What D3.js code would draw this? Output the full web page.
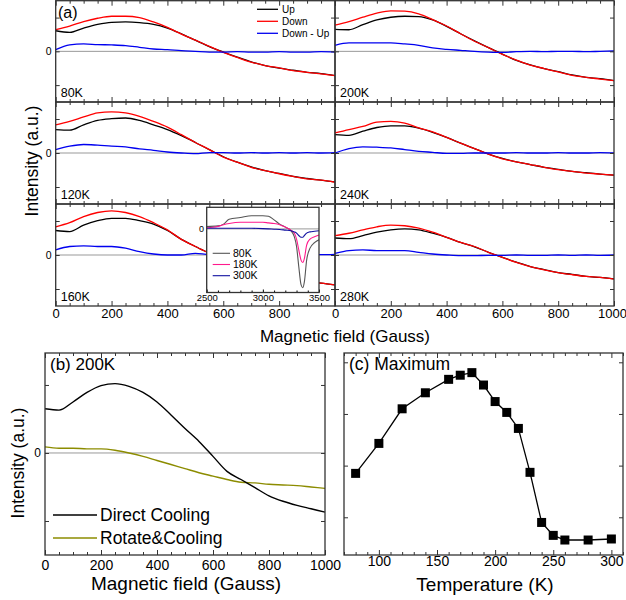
<!DOCTYPE html>
<html>
<head>
<meta charset="utf-8">
<script src="https://cdn.jsdelivr.net/npm/d3@7"></script>
<style>
  body { margin: 0; background: #fff; }
  svg { display: block; font-family: "Liberation Sans", Arial, sans-serif; }
</style>
</head>
<body>
<div id="chart"></div>
<script>
// ---- data ----
// (a) field sweep, Gauss
const fieldA = [0, 50, 100, 150, 200, 250, 300, 350, 400, 450, 500, 550, 600, 650, 700, 750, 800, 850, 900, 950, 1000];

const up80    = [0.61, 0.56, 0.69, 0.80, 0.86, 0.87, 0.85, 0.80, 0.69, 0.52, 0.33, 0.14, -0.02, -0.17, -0.31, -0.42, -0.50, -0.56, -0.62, -0.66, -0.72];
const down80  = [0.64, 0.75, 0.88, 0.98, 1.04, 1.04, 1.00, 0.87, 0.71, 0.51, 0.33, 0.15, -0.03, -0.18, -0.32, -0.42, -0.49, -0.57, -0.62, -0.67, -0.72];
const diff80  = [0.05, 0.19, 0.22, 0.20, 0.19, 0.17, 0.12, 0.07, 0.05, 0.02, 0.00, -0.02, -0.02, -0.01, -0.02, -0.02, -0.01, -0.02, -0.02, -0.01, -0.02];

const up120   = [0.69, 0.67, 0.83, 0.96, 1.01, 1.03, 0.96, 0.83, 0.69, 0.51, 0.31, 0.10, -0.11, -0.27, -0.41, -0.52, -0.60, -0.69, -0.75, -0.80, -0.85];
const down120 = [0.83, 0.93, 1.06, 1.18, 1.21, 1.18, 1.08, 0.93, 0.76, 0.54, 0.31, 0.10, -0.12, -0.27, -0.42, -0.52, -0.61, -0.69, -0.76, -0.80, -0.86];
const diff120 = [0.10, 0.20, 0.25, 0.23, 0.20, 0.18, 0.12, 0.08, 0.03, 0.00, -0.02, 0.01, 0.01, 0.00, 0.01, 0.00, 0.01, 0.00, 0.01, 0.00, 0.01];

const up160   = [0.72, 0.69, 0.88, 1.01, 1.08, 1.08, 1.01, 0.91, 0.72, 0.46, 0.25, 0.05, -0.15, -0.32, -0.46, -0.57, -0.66, -0.73, -0.79, -0.83, -0.88];
const down160 = [0.83, 0.95, 1.13, 1.25, 1.30, 1.25, 1.13, 0.95, 0.74, 0.46, 0.25, 0.05, -0.15, -0.32, -0.46, -0.57, -0.66, -0.73, -0.79, -0.83, -0.88];
const diff160 = [0.15, 0.25, 0.27, 0.25, 0.25, 0.20, 0.10, 0.03, 0.00, 0.00, 0.05, 0.02, 0.02, 0.01, 0.02, 0.01, 0.02, 0.01, 0.02, 0.01, 0.02];

const up200   = [0.65, 0.64, 0.79, 0.93, 1.01, 1.04, 1.03, 0.93, 0.74, 0.52, 0.31, 0.11, -0.08, -0.27, -0.40, -0.51, -0.60, -0.70, -0.77, -0.81, -0.87];
const down200 = [0.78, 0.88, 1.01, 1.13, 1.20, 1.19, 1.11, 0.94, 0.75, 0.52, 0.30, 0.11, -0.09, -0.26, -0.41, -0.51, -0.61, -0.71, -0.77, -0.82, -0.87];
const diff200 = [0.18, 0.25, 0.25, 0.25, 0.25, 0.22, 0.18, 0.10, 0.06, 0.03, 0.00, -0.02, -0.03, -0.01, 0.00, -0.01, 0.00, 0.00, -0.01, 0.00, 0.01];

const up240   = [0.54, 0.52, 0.64, 0.75, 0.80, 0.80, 0.73, 0.61, 0.46, 0.29, 0.13, -0.03, -0.16, -0.26, -0.34, -0.42, -0.48, -0.54, -0.58, -0.62, -0.65];
const down240 = [0.59, 0.69, 0.78, 0.91, 0.93, 0.88, 0.74, 0.62, 0.46, 0.29, 0.13, -0.03, -0.17, -0.26, -0.34, -0.42, -0.49, -0.54, -0.59, -0.62, -0.65];
const diff240 = [0.00, 0.13, 0.18, 0.17, 0.15, 0.10, 0.05, 0.02, -0.01, -0.01, 0.00, 0.00, 0.00, 0.01, 0.00, 0.00, 0.01, 0.00, 0.00, 0.01, 0.00];

const up280   = [0.50, 0.48, 0.57, 0.67, 0.74, 0.77, 0.74, 0.64, 0.52, 0.37, 0.24, 0.08, -0.07, -0.21, -0.34, -0.43, -0.52, -0.57, -0.63, -0.66, -0.70];
const down280 = [0.57, 0.64, 0.74, 0.83, 0.88, 0.86, 0.79, 0.67, 0.52, 0.37, 0.25, 0.08, -0.07, -0.22, -0.34, -0.44, -0.52, -0.58, -0.63, -0.66, -0.71];
const diff280 = [0.05, 0.13, 0.15, 0.13, 0.13, 0.13, 0.08, 0.03, 0.00, -0.02, -0.02, -0.01, -0.01, 0.00, -0.01, -0.01, 0.00, -0.01, 0.00, -0.01, 0.00];

// inset of (a): wide sweep
const insetField = [2500, 2600, 2650, 2700, 2800, 2900, 3000, 3050, 3100, 3150, 3200, 3250, 3280, 3300, 3320, 3340, 3355, 3370, 3390, 3420, 3460, 3500];
const inset80  = [0.04, 0.05, 0.08, 0.16, 0.19, 0.22, 0.22, 0.21, 0.15, 0.08, 0.03, -0.03, -0.13, -0.29, -0.63, -0.93, -0.98, -0.88, -0.52, -0.32, -0.23, -0.18];
const inset180 = [0.02, 0.04, 0.07, 0.09, 0.11, 0.11, 0.11, 0.10, 0.09, 0.07, 0.03, -0.02, -0.07, -0.17, -0.35, -0.52, -0.56, -0.49, -0.27, -0.17, -0.13, -0.10];
const inset300 = [0.01, 0.01, 0.01, 0.01, 0.01, 0.01, 0.005, 0.0, -0.005, -0.01, -0.02, -0.03, -0.05, -0.07, -0.11, -0.14, -0.14, -0.11, -0.07, -0.05, -0.04, -0.03];

// (b) 200K
const fieldB = [0, 50, 100, 150, 200, 250, 300, 350, 400, 450, 500, 550, 600, 650, 700, 750, 800, 850, 900, 950, 1000];
const directCooling = [0.65, 0.63, 0.75, 0.89, 0.99, 1.02, 0.98, 0.89, 0.75, 0.56, 0.36, 0.17, -0.05, -0.27, -0.39, -0.51, -0.63, -0.71, -0.77, -0.82, -0.87];
const rotateCooling = [0.09, 0.07, 0.07, 0.06, 0.06, 0.04, 0.00, -0.05, -0.11, -0.17, -0.23, -0.29, -0.34, -0.39, -0.43, -0.44, -0.46, -0.47, -0.48, -0.50, -0.52];

// (c) maximum vs temperature
const temps   = [80, 100, 120, 140, 160, 170, 180, 190, 200, 210, 220, 230, 240, 250, 260, 280, 300];
const maxima  = [1.85, 2.43, 3.10, 3.41, 3.67, 3.75, 3.80, 3.56, 3.24, 3.03, 2.72, 1.87, 0.90, 0.65, 0.56, 0.56, 0.58];

const fieldTicks = [0, 50, 100, 150, 200, 250, 300, 350, 400, 450, 500, 550, 600, 650, 700, 750, 800, 850, 900, 950, 1000];
const fieldLabels = [0, 200, 400, 600, 800, 1000];
const tempTicks = [70, 80, 90, 100, 110, 120, 130, 140, 150, 160, 170, 180, 190, 200, 210, 220, 230, 240, 250, 260, 270, 280, 290, 300, 310];
const tempLabels = [100, 150, 200, 250, 300];

const FRAME = "#333";

const svg = d3.select("#chart").append("svg")
    .attr("width", 626)
    .attr("height", 600);

// inward ticks on all four sides of a box
function boxTicks(g, x, y, xt, xMajor, yt) {
    const [xl, xr] = x.range();
    const [yb, yt0] = y.range();
    const put = (axis, tx, ty) => g.append("g")
        .attr("transform", `translate(${tx},${ty})`)
        .call(axis)
        .call(a => a.select(".domain").remove())
        .call(a => a.selectAll("line").attr("stroke", FRAME));
    const major = xt.filter(v => xMajor.includes(v));
    const minor = xt.filter(v => !xMajor.includes(v));
    put(d3.axisBottom(x).tickValues(minor).tickSize(-3).tickFormat(""), 0, yb);
    put(d3.axisTop(x).tickValues(minor).tickSize(-3).tickFormat(""), 0, yt0);
    put(d3.axisBottom(x).tickValues(major).tickSize(-5).tickFormat(""), 0, yb);
    put(d3.axisTop(x).tickValues(major).tickSize(-5).tickFormat(""), 0, yt0);
    put(d3.axisLeft(y).tickValues(yt).tickSize(-4).tickFormat(""), xl, 0);
    put(d3.axisRight(y).tickValues(yt).tickSize(-4).tickFormat(""), xr, 0);
}

function frame(g, x, y) {
    const [xl, xr] = x.range();
    const [yb, yt] = y.range();
    g.append("rect")
        .attr("x", xl).attr("y", yt)
        .attr("width", xr - xl).attr("height", yb - yt)
        .attr("fill", "none")
        .attr("stroke", FRAME)
        .attr("stroke-width", 1.3);
}

function xLabels(g, x, y0, values, size, pad) {
    return g.append("g")
        .attr("transform", `translate(0,${y0})`)
        .call(d3.axisBottom(x).tickValues(values).tickSize(0).tickPadding(pad).tickFormat(d3.format("d")))
        .call(a => a.select(".domain").remove())
        .call(a => a.selectAll("text")
            .attr("fill", "#000")
            .style("font-size", size + "px")
            .style("font-family", "Liberation Sans, Arial, sans-serif"));
}

function zeroLine(g, x, y) {
    g.append("line")
        .attr("x1", x.range()[0]).attr("x2", x.range()[1])
        .attr("y1", y(0)).attr("y2", y(0))
        .attr("stroke", "#999")
        .attr("stroke-width", 1);
}

function curve(g, x, y, xs, ys, color, width) {
    const line = d3.line()
        .x((d, i) => x(xs[i]))
        .y(d => y(d))
        .curve(d3.curveMonotoneX);
    g.append("path")
        .attr("d", line(ys))
        .attr("fill", "none")
        .attr("stroke", color)
        .attr("stroke-width", width || 1.3);
}

// ---- (a) six sub panels ----
const colX = [[55.7, 335], [335, 614]];
const rowY = [[0.7, 102], [102, 204], [204, 306]];
const panelsA = [
    {col: 0, row: 0, name: "80K",  up: up80,  down: down80,  diff: diff80},
    {col: 0, row: 1, name: "120K", up: up120, down: down120, diff: diff120},
    {col: 0, row: 2, name: "160K", up: up160, down: down160, diff: diff160},
    {col: 1, row: 0, name: "200K", up: up200, down: down200, diff: diff200},
    {col: 1, row: 1, name: "240K", up: up240, down: down240, diff: diff240},
    {col: 1, row: 2, name: "280K", up: up280, down: down280, diff: diff280}
];

const gA = svg.append("g");
panelsA.forEach(p => {
    const x = d3.scaleLinear().domain([0, 1000]).range(colX[p.col]);
    const y = d3.scaleLinear().domain([-1.5, 1.5]).range([rowY[p.row][1], rowY[p.row][0]]);
    const g = gA.append("g");
    zeroLine(g, x, y);
    curve(g, x, y, fieldA, p.up, "#000");
    curve(g, x, y, fieldA, p.down, "#f00");
    curve(g, x, y, fieldA, p.diff, "#0000f0");
    boxTicks(g, x, y, fieldTicks, fieldLabels, [-1, 0, 1]);
    frame(g, x, y);
    g.append("text")
        .attr("x", x.range()[0] + 5)
        .attr("y", rowY[p.row][1] - 5.5)
        .style("font-size", "12.5px")
        .text(p.name);
    if (p.col === 0) {
        g.append("text")
            .attr("x", x.range()[0] - 4)
            .attr("y", y(0))
            .attr("dy", "0.35em")
            .attr("text-anchor", "end")
            .style("font-size", "10.5px")
            .text("0");
    }
    if (p.row === 2) {
        const ax = xLabels(g, x, rowY[2][1], p.col === 0 ? fieldLabels.slice(0, 5) : fieldLabels, 13, 3);
        // keep the last label inside the page
        ax.selectAll(".tick text").filter(d => d === 1000).attr("dx", "-2");
    }
});

gA.append("text")
    .attr("x", 58).attr("y", 18)
    .style("font-size", "16px")
    .text("(a)");

// legend (a)
const legA = [["Up", "#000"], ["Down", "#f00"], ["Down - Up", "#0000f0"]];
legA.forEach((d, i) => {
    const yy = 9.3 + i * 12;
    gA.append("line")
        .attr("x1", 257).attr("x2", 278)
        .attr("y1", yy).attr("y2", yy)
        .attr("stroke", d[1]).attr("stroke-width", 1.3);
    gA.append("text")
        .attr("x", 282).attr("y", yy)
        .attr("dy", "0.35em")
        .style("font-size", "10px")
        .text(d[0]);
});

gA.append("text")
    .attr("transform", "translate(38,161) rotate(-90)")
    .attr("text-anchor", "middle")
    .style("font-size", "17.5px")
    .text("Intensity (a.u.)");

gA.append("text")
    .attr("x", 345).attr("y", 342)
    .attr("text-anchor", "middle")
    .style("font-size", "17px")
    .text("Magnetic field (Gauss)");

// ---- inset ----
const gI = svg.append("g");
const xi = d3.scaleLinear().domain([2500, 3500]).range([206.7, 319]);
const yi = d3.scaleLinear().domain([-1.06, 0.36]).range([292.5, 207.3]);
gI.append("rect")
    .attr("x", 206.7).attr("y", 207.3)
    .attr("width", 319 - 206.7).attr("height", 292.5 - 207.3)
    .attr("fill", "#fff");
zeroLine(gI, xi, yi);
curve(gI, xi, yi, insetField, inset80, "#555", 1.1);
curve(gI, xi, yi, insetField, inset180, "#ff1a8c", 1.1);
curve(gI, xi, yi, insetField, inset300, "#1010a0", 1.1);
gI.append("g")
    .attr("transform", `translate(0,${yi.range()[0]})`)
    .call(d3.axisBottom(xi).tickValues([2600, 2700, 2800, 2900, 3100, 3200, 3300, 3400]).tickSize(-2).tickFormat(""))
    .call(a => a.select(".domain").remove());
gI.append("g")
    .attr("transform", `translate(0,${yi.range()[0]})`)
    .call(d3.axisBottom(xi).tickValues([2500, 3000, 3500]).tickSize(-3).tickFormat(""))
    .call(a => a.select(".domain").remove());
frame(gI, xi, yi);
xLabels(gI, xi, yi.range()[0], [2500, 3000, 3500], 9.5, 2);
gI.append("text")
    .attr("x", 204).attr("y", yi(0))
    .attr("dy", "0.35em")
    .attr("text-anchor", "end")
    .style("font-size", "9px")
    .text("0");

const legI = [["80K", "#555"], ["180K", "#ff1a8c"], ["300K", "#1010a0"]];
legI.forEach((d, i) => {
    const yy = 253.3 + i * 11.2;
    gI.append("line")
        .attr("x1", 212.7).attr("x2", 230)
        .attr("y1", yy).attr("y2", yy)
        .attr("stroke", d[1]).attr("stroke-width", 1.1);
    gI.append("text")
        .attr("x", 233).attr("y", yy)
        .attr("dy", "0.35em")
        .style("font-size", "10.5px")
        .text(d[0]);
});

// ---- (b) ----
const gB = svg.append("g");
const xb = d3.scaleLinear().domain([0, 1000]).range([45, 325]);
const yb = d3.scaleLinear().domain([-1.5, 1.47]).range([555, 353]);
zeroLine(gB, xb, yb);
curve(gB, xb, yb, fieldB, rotateCooling, "#8c8c00", 1.4);
curve(gB, xb, yb, fieldB, directCooling, "#000", 1.4);
boxTicks(gB, xb, yb, fieldTicks, fieldLabels, [-1, 0, 1]);
frame(gB, xb, yb);
xLabels(gB, xb, 555, fieldLabels, 14, 5);
gB.append("text")
    .attr("x", 41).attr("y", yb(0))
    .attr("dy", "0.35em")
    .attr("text-anchor", "end")
    .style("font-size", "12px")
    .text("0");
gB.append("text")
    .attr("x", 50).attr("y", 370)
    .style("font-size", "17px")
    .text("(b) 200K");
const legB = [["Direct Cooling", "#000"], ["Rotate&Cooling", "#8c8c00"]];
legB.forEach((d, i) => {
    const yy = 515 + i * 23;
    gB.append("line")
        .attr("x1", 53).attr("x2", 97)
        .attr("y1", yy).attr("y2", yy)
        .attr("stroke", d[1]).attr("stroke-width", 1.5);
    gB.append("text")
        .attr("x", 100).attr("y", yy)
        .attr("dy", "0.35em")
        .style("font-size", "17.5px")
        .text(d[0]);
});
gB.append("text")
    .attr("transform", "translate(24,463) rotate(-90)")
    .attr("text-anchor", "middle")
    .style("font-size", "17.5px")
    .text("Intensity (a.u.)");
gB.append("text")
    .attr("x", 186).attr("y", 590)
    .attr("text-anchor", "middle")
    .style("font-size", "19px")
    .text("Magnetic field (Gauss)");

// ---- (c) ----
const gC = svg.append("g");
const xc = d3.scaleLinear().domain([70, 310]).range([344, 623]);
const yc = d3.scaleLinear().domain([0.27, 4.18]).range([555, 353]);
boxTicks(gC, xc, yc, tempTicks, [100, 150, 200, 250, 300], [1, 2, 3, 4]);
gC.append("path")
    .attr("d", d3.line().x((d, i) => xc(temps[i])).y(d => yc(d))(maxima))
    .attr("fill", "none")
    .attr("stroke", "#000")
    .attr("stroke-width", 1.3);
gC.selectAll("rect.pt")
    .data(maxima)
    .join("rect")
    .attr("class", "pt")
    .attr("x", (d, i) => xc(temps[i]) - 4.5)
    .attr("y", d => yc(d) - 4.5)
    .attr("width", 9).attr("height", 9)
    .attr("fill", "#000");
frame(gC, xc, yc);
xLabels(gC, xc, 555, tempLabels, 14, 1);
gC.append("text")
    .attr("x", 349).attr("y", 370)
    .style("font-size", "17.5px")
    .text("(c) Maximum");
gC.append("text")
    .attr("x", 485).attr("y", 591)
    .attr("text-anchor", "middle")
    .style("font-size", "19px")
    .text("Temperature (K)");
</script>
</body>
</html>
